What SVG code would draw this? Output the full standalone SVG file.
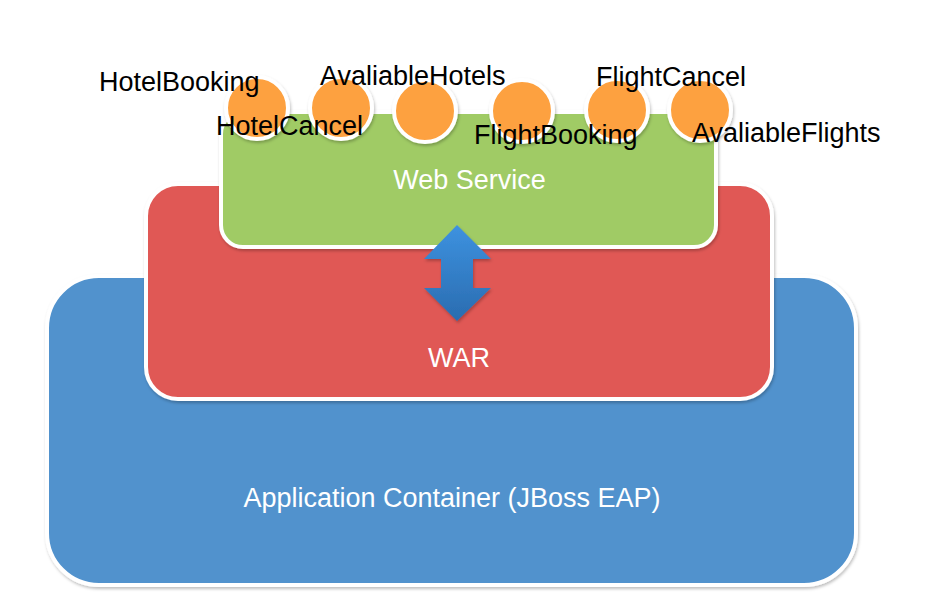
<svg xmlns="http://www.w3.org/2000/svg" width="947" height="610" viewBox="0 0 947 610">
<style>
.box{stroke:#fff;stroke-width:4;filter:url(#sh)}
.port{fill:#fda13f;stroke:#fff;stroke-width:4;filter:url(#sh)}
.in{font-family:"Liberation Sans",Arial,sans-serif;font-size:27px;fill:#fff;text-anchor:middle}
.lbl{font-family:"Liberation Sans",Arial,sans-serif;font-size:27px;fill:#000}
</style>
<defs>
<filter id="sh" x="-10%" y="-10%" width="120%" height="130%">
<feDropShadow dx="1" dy="2" stdDeviation="1.5" flood-color="#000" flood-opacity="0.25"/>
</filter>
<linearGradient id="ag" x1="0" y1="0" x2="0" y2="1">
<stop offset="0" stop-color="#3d92e0"/>
<stop offset="1" stop-color="#2a6cb0"/>
</linearGradient>
</defs>
<rect width="947" height="610" fill="#fff"/>
<g id="container">
<rect class="box" x="47" y="276" width="809" height="309" rx="52" fill="#5192cd"/>
<text class="in" x="452" y="507">Application Container (JBoss EAP)</text>
</g>
<g id="war">
<rect class="box" x="146" y="184" width="626" height="215" rx="32" fill="#e05854"/>
<text class="in" x="459" y="367">WAR</text>
</g>
<g id="webservice">
<rect class="box" x="221" y="112" width="495" height="135" rx="22" fill="#a0cb65"/>
<text class="in" x="469.5" y="189">Web Service</text>
</g>
<g id="connectors">
<polygon points="457,225 491,259 473,259 473,288 491,288 457,321 424,288 441,288 441,259 424,259" fill="url(#ag)" filter="url(#sh)"/>
</g>
<g id="port-hotelbooking"><circle class="port" cx="257" cy="108" r="31"/></g>
<g id="port-hotelcancel"><circle class="port" cx="341" cy="108" r="31"/></g>
<g id="port-avaliablehotels"><circle class="port" cx="425" cy="111" r="31"/></g>
<g id="port-flightbooking"><circle class="port" cx="522" cy="111" r="31"/></g>
<g id="port-flightcancel"><circle class="port" cx="617" cy="110" r="31"/></g>
<g id="port-avaliableflights"><circle class="port" cx="700" cy="110" r="31"/></g>
<g id="labels">
<text class="lbl" x="99" y="91">HotelBooking</text>
<text class="lbl" x="320" y="85">AvaliableHotels</text>
<text class="lbl" x="216" y="135">HotelCancel</text>
<text class="lbl" x="474" y="144">FlightBooking</text>
<text class="lbl" x="596" y="86">FlightCancel</text>
<text class="lbl" x="692" y="142">AvaliableFlights</text>
</g>
</svg>
